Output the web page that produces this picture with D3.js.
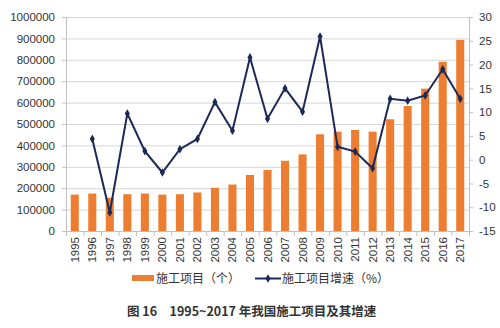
<!DOCTYPE html>
<html><head><meta charset="utf-8">
<script src="https://cdn.jsdelivr.net/npm/d3@7"></script>
<style>body{margin:0;background:#fff}svg{display:block}</style>
</head><body>
<svg id="c" width="500" height="328"></svg>
<script>
const years = ["1995","1996","1997","1998","1999","2000","2001","2002","2003","2004","2005","2006","2007","2008","2009","2010","2011","2012","2013","2014","2015","2016","2017"];
const projects = [170000,175000,155000,172000,175000,170000,172000,180000,202000,217000,262000,285000,328000,358000,452000,464000,472000,464000,522000,584000,665000,791000,893000];
const growth = [null,4.35,-11.1,9.7,1.8,-2.7,2.2,4.35,12.1,6.1,21.5,8.6,15.0,10.1,25.9,2.7,1.7,-1.8,12.8,12.4,13.5,19.0,12.8];
const leftTicks = [0,100000,200000,300000,400000,500000,600000,700000,800000,900000,1000000];
const rightTicks = [-15,-10,-5,0,5,10,15,20,25,30];
const legendLabels = ["施工项目（个）","施工项目增速（%）"];
const title = "图 16　1995~2017 年我国施工项目及其增速";

const svg = d3.select("#c");
const L = 66, R = 469, T = 17, B = 231;
const x = d3.scaleBand().domain(years).range([L, R]).paddingInner(0.54).paddingOuter(0.27);
const xb = d3.scaleBand().domain(years).range([L, R]);
const yL = d3.scaleLinear().domain([0, 1000000]).range([B, T]);
const yR = d3.scaleLinear().domain([-15, 30]).range([B, T]);
const font = "'Liberation Sans', Arial, sans-serif";

// gridlines
svg.append("g").selectAll("line").data(leftTicks).join("line")
  .attr("x1", L).attr("x2", R).attr("y1", d => yL(d) + 0.5).attr("y2", d => yL(d) + 0.5)
  .attr("stroke", "#d6d6d6").attr("stroke-width", 1);

// bars
svg.append("g").selectAll("rect").data(projects).join("rect")
  .attr("x", (d, i) => x(years[i])).attr("width", x.bandwidth())
  .attr("y", d => yL(d)).attr("height", d => B - yL(d))
  .attr("fill", "#ED7D31");

// axes
const gl = svg.append("g").attr("transform", `translate(${L},0)`)
  .call(d3.axisLeft(yL).tickValues(leftTicks).tickSize(4).tickPadding(7).tickFormat(d3.format("d")));
gl.select(".domain").attr("stroke", "#bfbfbf");
gl.selectAll(".tick line").attr("stroke", "#bfbfbf");
gl.selectAll("text").attr("font-family", font).attr("font-size", 11.5).attr("fill", "#333");

const gr = svg.append("g").attr("transform", `translate(${R},0)`)
  .call(d3.axisRight(yR).tickValues(rightTicks).tickSize(4).tickPadding(6).tickFormat(d => String(d)));
gr.select(".domain").attr("stroke", "#bfbfbf");
gr.selectAll(".tick line").attr("stroke", "#bfbfbf");
gr.selectAll("text").attr("font-family", font).attr("font-size", 11.5).attr("fill", "#333");

// x axis
const gx = svg.append("g").attr("transform", `translate(0,${B})`);
gx.append("line").attr("x1", L).attr("x2", R).attr("y1", 0.5).attr("y2", 0.5).attr("stroke", "#bfbfbf");
gx.selectAll("line.t").data(years.concat(["end"])).join("line").attr("class", "t")
  .attr("x1", (d, i) => L + i * xb.bandwidth() + 0.5).attr("x2", (d, i) => L + i * xb.bandwidth() + 0.5)
  .attr("y1", 0).attr("y2", 5).attr("stroke", "#bfbfbf");
gx.selectAll("text").data(years).join("text")
  .attr("transform", d => `translate(${xb(d) + xb.bandwidth() / 2 + 4},6) rotate(-90)`)
  .attr("text-anchor", "end").attr("font-family", font).attr("font-size", 11.5).attr("fill", "#333")
  .text(d => d);

// line
const pts = growth.map((v, i) => ({ yr: years[i], v })).filter(d => d.v !== null);
const cx = d => xb(d.yr) + xb.bandwidth() / 2;
svg.append("path").datum(pts)
  .attr("d", d3.line().x(cx).y(d => yR(d.v)))
  .attr("fill", "none").attr("stroke", "#1c2856").attr("stroke-width", 2);
const diamond = d3.symbol().type(d3.symbolDiamond).size(22);
svg.append("g").selectAll("path").data(pts).join("path")
  .attr("transform", d => `translate(${cx(d)},${yR(d.v)})`)
  .attr("d", diamond).attr("fill", "#1c2856");

// legend
const cjk = "'Noto Sans CJK SC', sans-serif";
svg.append("rect").attr("x", 132).attr("y", 275).attr("width", 22).attr("height", 6).attr("fill", "#ED7D31");
svg.append("text").attr("x", 156).attr("y", 282.5).attr("font-family", cjk).attr("font-size", 12).attr("fill", "#333").text(legendLabels[0]);
svg.append("line").attr("x1", 255).attr("x2", 281).attr("y1", 278.5).attr("y2", 278.5).attr("stroke", "#1c2856").attr("stroke-width", 2);
svg.append("path").attr("transform", "translate(268,278.5)").attr("d", diamond).attr("fill", "#1c2856");
svg.append("text").attr("x", 282).attr("y", 282.5).attr("font-family", cjk).attr("font-size", 12).attr("fill", "#333").text(legendLabels[1]);

// title
svg.append("text").attr("x", 127).attr("y", 316).attr("font-family", cjk).attr("font-weight", "bold")
  .attr("font-size", 12.5).attr("fill", "#333").text(title);
</script>
</body></html>
